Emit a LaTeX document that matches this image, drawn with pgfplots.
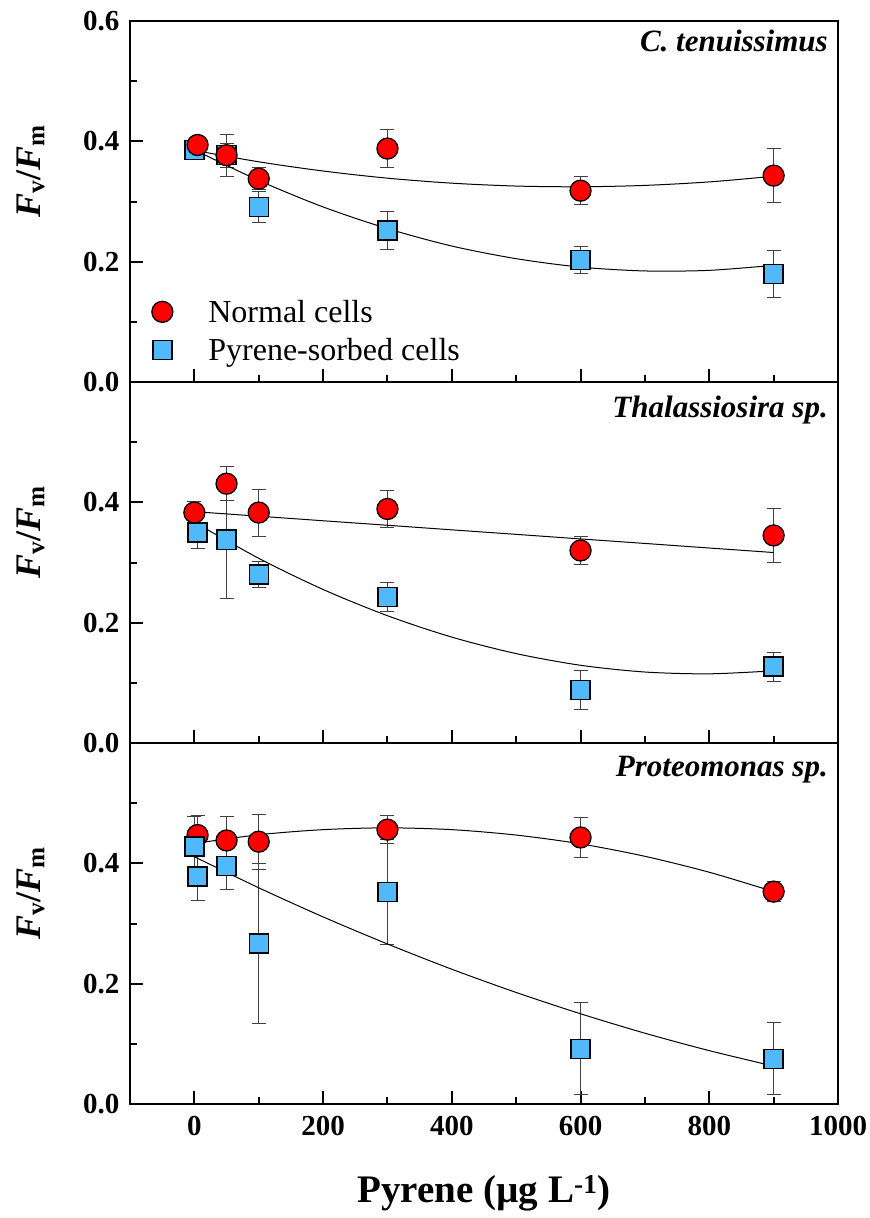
\documentclass[border=0pt]{standalone}
\usepackage{fontspec}
\setmainfont{Liberation Serif}
\usepackage{pgfplots}
\pgfplotsset{compat=1.18}
\usepgfplotslibrary{groupplots}

\definecolor{redM}{RGB}{255,0,0}
\definecolor{blueM}{RGB}{80,185,250}

% panel data: x, y, error
\pgfplotstableread{
x y e
5 0.394 0.010
50 0.377 0.035
100 0.338 0.018
300 0.388 0.031
600 0.318 0.023
900 0.343 0.045
}\topred
\pgfplotstableread{
x y e
0 0.386 0.010
50 0.377 0.020
100 0.291 0.026
300 0.252 0.031
600 0.203 0.022
900 0.180 0.039
}\topblue
\pgfplotstableread{
x y e
0 0.383 0.018
50 0.431 0.028
100 0.383 0.039
300 0.389 0.031
600 0.320 0.023
900 0.345 0.045
}\midred
\pgfplotstableread{
x y e
5 0.350 0.026
50 0.338 0.098
100 0.280 0.022
300 0.243 0.024
600 0.088 0.033
900 0.127 0.024
}\midblue
\pgfplotstableread{
x y e
5 0.447 0.033
50 0.438 0.040
100 0.436 0.046
300 0.456 0.023
600 0.443 0.033
900 0.353 0.017
}\botred
\pgfplotstableread{
x y e
0 0.428 0.050
5 0.378 0.040
50 0.396 0.040
100 0.267 0.133
300 0.352 0.087
600 0.092 0.077
900 0.075 0.060
}\botblue

% fitted curves
\pgfplotstableread{
x tr tb mr mb br bb
0   0.385 0.386 0.3845 0.367 0.433 0.411
100 0.366 0.335 0.3770 0.307 0.4475 0.3594
200 0.3507 0.291 0.3694 0.2552 0.456 0.311
300 0.3388 0.255 0.3619 0.2116 0.459 0.266
400 0.3305 0.226 0.3543 0.176 0.456 0.224
500 0.3257 0.205 0.3468 0.1486 0.447 0.1854
600 0.3245 0.191 0.3392 0.1292 0.4324 0.150
700 0.3268 0.1846 0.3317 0.118 0.4117 0.1177
800 0.3326 0.1856 0.3241 0.115 0.3852 0.0887
900 0.342 0.194 0.3166 0.120 0.353 0.063
}\fits

\pgfplotsset{
  errs/.style={error bars/y dir=both, error bars/y explicit,
    error bars/error bar style={line width=1pt, black!75},
    error bars/error mark options={line width=1pt, black!75, mark size=7pt, rotate=90}},
  redpts/.style={only marks, mark=*, mark size=10.5pt,
    mark options={fill=redM, draw=black, line width=1.3pt}},
  bluepts/.style={only marks, mark=square*, mark size=9.5pt,
    mark options={fill=blueM, draw=black, line width=1.3pt}},
  fitline/.style={smooth, no marks, black, line width=1pt},
}

\begin{document}
\begin{tikzpicture}
\begin{groupplot}[
  group style={group size=1 by 3, vertical sep=0pt, xticklabels at=edge bottom},
  scale only axis, width=708pt, height=361pt,
  xmin=-100, xmax=1000, ymin=0, ymax=0.6,
  xtick={0,200,...,1000}, minor xtick={100,300,...,900},
  ytick={0,0.2,0.4}, minor ytick={0.1,0.3,0.5},
  tick align=inside, xtick pos=bottom, ytick pos=left,
  major tick length=13pt, minor tick length=7pt,
  every tick/.style={black, line width=2pt},
  axis line style={line width=2.5pt},
  tick label style={font=\fontsize{29}{29}\selectfont\bfseries},
  /pgf/number format/assume math mode=true,
  /pgf/number format/1000 sep={},
  yticklabel style={xshift=-7pt, /pgf/number format/.cd, fixed, fixed zerofill, precision=1},
  xticklabel style={yshift=-8.5pt},
  ylabel={\textbf{\textit{F}\textsubscript{v}/\textit{F}\textsubscript{m}}},
  ylabel style={font=\fontsize{36}{36}\selectfont, at={(axis description cs:-0.14,0.585)}, anchor=center},
  clip=false,
]
\nextgroupplot[ytick={0,0.2,0.4,0.6},
  legend style={draw=none, fill=none, at={(axis cs:-71,0.140)}, anchor=north west,
    font=\fontsize{32}{32}\selectfont, row sep=14.5pt, column sep=0pt,
    nodes={inner sep=0pt}},
  legend cell align=left,
  legend image code/.code={\draw[#1] plot coordinates {(0pt,0pt)}; \path[draw=none, fill=none] (0pt,0pt) -- (46pt,0pt);}]
\addplot[bluepts, errs, forget plot] table[x=x, y=y, y error=e] {\topblue};
\addplot[redpts, errs] table[x=x, y=y, y error=e] {\topred};
\addlegendentry{Normal cells}
\addplot[bluepts] coordinates {(-1000,-1)};
\addlegendentry{Pyrene-sorbed cells}
\addplot[fitline, forget plot] table[x=x, y=tr] {\fits};
\addplot[fitline, forget plot] table[x=x, y=tb] {\fits};
\node[anchor=north east, inner sep=0pt, font=\fontsize{31}{31}\selectfont\bfseries\itshape]
  at ([xshift=-10pt, yshift=-8.5pt]rel axis cs:1,1) {C. tenuissimus};

\nextgroupplot
\addplot[bluepts, errs] table[x=x, y=y, y error=e] {\midblue};
\addplot[redpts, errs] table[x=x, y=y, y error=e] {\midred};
\addplot[fitline] table[x=x, y=mr] {\fits};
\addplot[fitline] table[x=x, y=mb] {\fits};
\node[anchor=north east, inner sep=0pt, font=\fontsize{31}{31}\selectfont\bfseries\itshape]
  at ([xshift=-10pt, yshift=-14pt]rel axis cs:1,1) {Thalassiosira sp.};

\nextgroupplot[
  xlabel={Pyrene (µg L\textsuperscript{-1})},
  xlabel style={font=\fontsize{39}{39}\selectfont\bfseries, at={(axis description cs:0.5,-0.2465)}, anchor=center}]
\addplot[redpts, errs] table[x=x, y=y, y error=e] {\botred};
\addplot[bluepts, errs] table[x=x, y=y, y error=e] {\botblue};
\addplot[fitline] table[x=x, y=br] {\fits};
\addplot[fitline] table[x=x, y=bb] {\fits};
\node[anchor=north east, inner sep=0pt, font=\fontsize{31}{31}\selectfont\bfseries\itshape]
  at ([xshift=-10pt, yshift=-13pt]rel axis cs:1,1) {Proteomonas sp.};
\end{groupplot}
\pgfresetboundingbox
\path ([shift={(-130pt,-114pt)}]group c1r3.south west) rectangle ([shift={(740pt,1104pt)}]group c1r3.south west);
\end{tikzpicture}
\end{document}
